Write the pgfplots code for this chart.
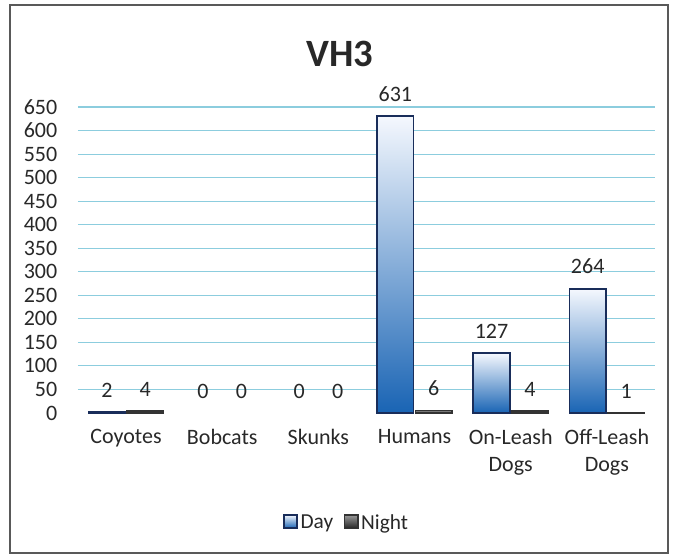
\documentclass[border=0pt]{standalone}
\usepackage{fontspec}
\setmainfont{Carlito}
\usepackage{pgfplots}
\pgfplotsset{compat=1.18}
\definecolor{gridblue}{RGB}{140,205,222}
\definecolor{daytop}{RGB}{245,248,254}
\definecolor{daymid}{RGB}{110,165,225}
\definecolor{daybot}{RGB}{25,100,180}
\definecolor{dayedge}{RGB}{25,45,90}
\definecolor{textgray}{RGB}{40,40,40}
\begin{document}
\begin{tikzpicture}[font=\fontsize{16.5}{20}\selectfont, text=textgray]
\useasboundingbox (-58.5pt,-108.75pt) rectangle (448.5pt,309.75pt);
\draw[black!65, line width=1pt] (-51pt,-105pt) rectangle (442.5pt,306pt);
\begin{axis}[
    at={(0,0)}, anchor=south west,
    width=432.75pt, height=229.5pt, scale only axis,
    /pgf/number format/assume math mode=true,
    ybar, bar width=0.38,
    xmin=-0.5, xmax=5.5, ymin=0, ymax=650,
    xtick={0,...,5},
    xticklabels={Coyotes,Bobcats,Skunks,Humans,{On-Leash\\Dogs},{Off-Leash\\Dogs}},
    xticklabel style={align=center, yshift=-9pt},
    ytick={50,100,...,650},
    extra y ticks={0}, extra tick style={grid=none},
    yticklabel style={xshift=-12pt},
    ymajorgrids, grid style={gridblue, line width=0.8pt},
    axis line style={draw=none}, major tick length=0pt,
    nodes near coords,
    nodes near coords style={anchor=south, yshift=7pt, font=\fontsize{16.5}{20}\selectfont},
    legend style={at={(0.466,-0.359)}, anchor=center, draw=none, fill=none,
        legend columns=2, font=\fontsize{16}{18}\selectfont,
        /tikz/every even column/.append style={column sep=6pt}},
    legend image code/.code={\draw[#1] (0pt,-4pt) rectangle (10pt,6pt);},
    day/.style={bar shift=-0.2, draw=dayedge, line width=1.2pt,
        top color=daytop, middle color=daymid, bottom color=daybot},
    night/.style={bar shift=0.2, draw=black!80, line width=1pt,
        top color=black!40, bottom color=black!85},
]
% Day: one plot per bar so each bar gets its own gradient
\addplot[day] coordinates {(0,2)};
\addlegendentry{Day}
\addplot[night] coordinates {(0,4) (3,6) (4,4) (5,1)};
\addlegendentry{Night}
\addplot[day, forget plot] coordinates {(3,631)};
\addplot[day, forget plot] coordinates {(4,127)};
\addplot[day, forget plot] coordinates {(5,264)};
% zero values: label only, no bar
\addplot[forget plot, bar shift=-0.2, draw=none, fill=none]
    coordinates {(1,0) (2,0)};
\addplot[forget plot, bar shift=0.2, draw=none, fill=none]
    coordinates {(1,0) (2,0)};
\end{axis}
\node[font=\fontsize{29}{32}\selectfont\bfseries] at (196.5pt,269pt) {VH3};
\end{tikzpicture}
\end{document}
